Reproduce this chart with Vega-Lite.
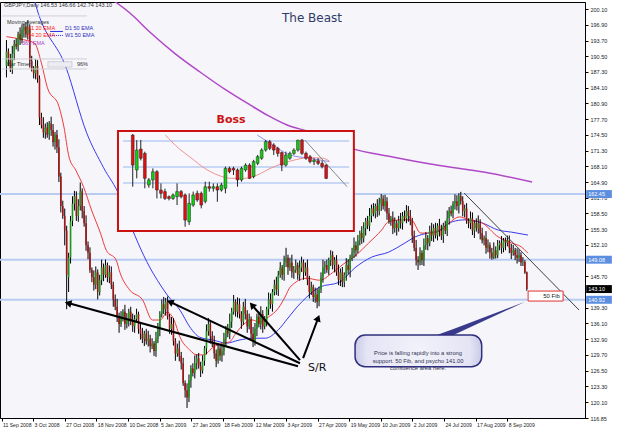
{
"$schema":"https://vega.github.io/schema/vega-lite/v6.json",
"width":585,"height":416,
"autosize":{"type":"none"},
"padding":{"left":0,"top":2,"right":40,"bottom":10},
"background":"#ffffff",
"config":{"view":{"fill":"#f5f5fa","stroke":"#000000","strokeWidth":1},"text":{"font":"Liberation Sans"},"axis":{"labelOverlap":false,"labelBound":false,"labelFlush":false}},
"datasets":{
"levels":[{"p":162.45},{"p":149.08},{"p":140.92}],
"ma365":[{"i":55,"p":202.3},{"i":57.5,"p":201.6},{"i":65,"p":199.3},{"i":75.2,"p":195.4},{"i":88,"p":191.0},{"i":100.5,"p":187.3},{"i":113,"p":183.8},{"i":125.8,"p":180.6},{"i":135,"p":178.4},{"i":144.6,"p":176.5},{"i":156.2,"p":175.1},{"i":176.5,"p":171.8},{"i":198,"p":170.0},{"i":219.5,"p":168.4},{"i":244.8,"p":166.9},{"i":268.6,"p":164.9}],
"ma50":[{"i":14,"p":202.5},{"i":15.4,"p":200.5},{"i":30.6,"p":188.3},{"i":41.3,"p":174.9},{"i":49.9,"p":167.9},{"i":58.5,"p":161.8},{"i":61.5,"p":158.6},{"i":73.7,"p":147.6},{"i":77.7,"p":144.9},{"i":82.8,"p":141.9},{"i":89.4,"p":138.8},{"i":94.4,"p":135.4},{"i":99.5,"p":133.3},{"i":106.6,"p":132.7},{"i":113.2,"p":132.1},{"i":119.7,"p":132.7},{"i":126.8,"p":133.1},{"i":133.4,"p":133.1},{"i":140,"p":134.8},{"i":145,"p":137.2},{"i":150,"p":139.6},{"i":154.7,"p":141.5},{"i":161.3,"p":143.5},{"i":171.4,"p":144.5},{"i":180,"p":147.6},{"i":188.1,"p":149.6},{"i":196.7,"p":150.6},{"i":205.3,"p":152.5},{"i":210.4,"p":153.7},{"i":217,"p":154.5},{"i":222,"p":154.9},{"i":229.6,"p":156.8},{"i":236.2,"p":157.2},{"i":244.8,"p":156.6},{"i":253.4,"p":155.1},{"i":260,"p":154.7},{"i":268.6,"p":154.1}],
"ma20":[{"i":0,"p":194.5},{"i":7,"p":194.0},{"i":14.4,"p":193.2},{"i":18,"p":189.1},{"i":21,"p":184.2},{"i":27.1,"p":180.2},{"i":29.6,"p":176.1},{"i":32.2,"p":170.0},{"i":35.7,"p":167.3},{"i":39.7,"p":163.9},{"i":43.8,"p":159.2},{"i":48.4,"p":154.5},{"i":51.4,"p":151.0},{"i":56.5,"p":149.0},{"i":58.5,"p":146.4},{"i":63.5,"p":142.9},{"i":70.1,"p":140.9},{"i":75.2,"p":136.8},{"i":79.2,"p":136.8},{"i":82.8,"p":138.4},{"i":86.3,"p":136.8},{"i":89.4,"p":133.3},{"i":94.4,"p":130.7},{"i":98,"p":129.7},{"i":101.5,"p":129.7},{"i":106.6,"p":131.3},{"i":111.6,"p":132.1},{"i":114.7,"p":132.3},{"i":118.2,"p":134.1},{"i":121.8,"p":135.8},{"i":126.8,"p":136.8},{"i":129.9,"p":136.4},{"i":134.9,"p":137.4},{"i":140,"p":139.2},{"i":143.5,"p":141.5},{"i":146.1,"p":143.5},{"i":154.7,"p":145.3},{"i":161.3,"p":144.9},{"i":167.8,"p":146.4},{"i":172.9,"p":148.0},{"i":180,"p":150.0},{"i":186.6,"p":152.5},{"i":193.2,"p":155.1},{"i":196.7,"p":156.8},{"i":203.3,"p":157.2},{"i":208.4,"p":157.2},{"i":213.4,"p":154.5},{"i":218.5,"p":154.5},{"i":222,"p":154.7},{"i":228.1,"p":156.6},{"i":233.2,"p":157.8},{"i":238.2,"p":157.2},{"i":244.8,"p":156.6},{"i":253.4,"p":153.7},{"i":260,"p":152.5},{"i":265.1,"p":151.7},{"i":268.6,"p":150.4}],
"candles":[
{"i":0,"o":188.5,"h":193.8,"l":186.2,"c":191.5},{"i":1,"o":191.5,"h":192.1,"l":188.5,"c":190.0},{"i":2,"o":190.0,"h":191.0,"l":187.3,"c":188.0},{"i":3,"o":188.0,"h":192.6,"l":186.9,"c":191.0},{"i":4,"o":191.0,"h":193.8,"l":189.7,"c":193.0},{"i":5,"o":193.0,"h":194.1,"l":191.9,"c":192.5},{"i":6,"o":192.5,"h":195.5,"l":191.5,"c":195.0},{"i":7,"o":195.0,"h":196.4,"l":192.8,"c":194.0},{"i":8,"o":194.0,"h":197.0,"l":193.1,"c":195.8},{"i":9,"o":195.8,"h":197.1,"l":194.3,"c":196.5},
{"i":10,"o":196.5,"h":197.5,"l":194.3,"c":195.0},{"i":11,"o":195.0,"h":197.8,"l":193.9,"c":196.2},{"i":12,"o":196.2,"h":197.0,"l":188.2,"c":189.5},{"i":13,"o":189.5,"h":190.6,"l":187.4,"c":188.0},{"i":14,"o":188.0,"h":188.5,"l":186.0,"c":187.0},{"i":15,"o":187.0,"h":189.9,"l":185.8,"c":188.5},{"i":16,"o":188.5,"h":189.7,"l":185.1,"c":186.0},{"i":17,"o":186.0,"h":186.6,"l":176.5,"c":178.0},{"i":18,"o":178.0,"h":179.0,"l":175.8,"c":176.5},{"i":19,"o":176.5,"h":178.1,"l":173.9,"c":175.0},
{"i":20,"o":175.0,"h":176.8,"l":173.7,"c":176.0},{"i":21,"o":176.0,"h":177.1,"l":173.9,"c":174.5},{"i":22,"o":174.5,"h":177.3,"l":173.5,"c":176.8},{"i":23,"o":176.8,"h":178.2,"l":174.3,"c":175.5},{"i":24,"o":175.5,"h":176.7,"l":172.1,"c":173.0},{"i":25,"o":173.0,"h":175.1,"l":171.5,"c":174.5},{"i":26,"o":174.5,"h":175.5,"l":170.8,"c":172.0},{"i":27,"o":172.0,"h":173.6,"l":164.9,"c":166.0},{"i":28,"o":166.0,"h":166.8,"l":158.7,"c":160.0},{"i":29,"o":160.0,"h":161.1,"l":157.4,"c":158.0},
{"i":30,"o":158.0,"h":159.5,"l":152.0,"c":155.0},{"i":31,"o":155.0,"h":156.0,"l":139.0,"c":146.0},{"i":32,"o":145.5,"h":150.5,"l":142.5,"c":149.5},{"i":33,"o":149.5,"h":158.0,"l":148.3,"c":157.0},{"i":34,"o":157.0,"h":162.0,"l":155.9,"c":160.5},{"i":35,"o":160.5,"h":163.1,"l":159.1,"c":162.0},{"i":36,"o":162.0,"h":163.0,"l":157.0,"c":158.0},{"i":37,"o":158.0,"h":161.4,"l":156.8,"c":160.0},{"i":38,"o":160.0,"h":164.8,"l":159.1,"c":163.0},{"i":39,"o":163.0,"h":163.6,"l":157.5,"c":159.0},
{"i":40,"o":159.0,"h":160.0,"l":155.8,"c":156.5},{"i":41,"o":156.5,"h":158.1,"l":150.9,"c":152.0},{"i":42,"o":152.0,"h":152.8,"l":149.2,"c":150.5},{"i":43,"o":150.5,"h":151.6,"l":146.4,"c":147.0},{"i":44,"o":147.0,"h":147.5,"l":144.5,"c":145.5},{"i":45,"o":145.5,"h":146.9,"l":142.8,"c":144.0},{"i":46,"o":144.0,"h":147.7,"l":143.1,"c":146.5},{"i":47,"o":146.5,"h":147.1,"l":141.0,"c":142.5},{"i":48,"o":142.5,"h":146.0,"l":141.8,"c":145.0},{"i":49,"o":145.0,"h":149.1,"l":143.9,"c":147.5},
{"i":50,"o":147.5,"h":148.3,"l":144.7,"c":146.0},{"i":51,"o":146.0,"h":149.1,"l":145.4,"c":148.0},{"i":52,"o":148.0,"h":148.5,"l":144.5,"c":145.5},{"i":53,"o":145.5,"h":147.9,"l":144.3,"c":146.5},{"i":54,"o":146.5,"h":147.7,"l":143.1,"c":144.0},{"i":55,"o":144.0,"h":144.6,"l":139.5,"c":141.0},{"i":56,"o":141.0,"h":142.0,"l":138.8,"c":139.5},{"i":57,"o":139.5,"h":141.1,"l":136.4,"c":137.5},{"i":58,"o":137.5,"h":138.3,"l":134.2,"c":136.0},{"i":59,"o":136.0,"h":138.6,"l":135.4,"c":137.5},
{"i":60,"o":137.5,"h":139.0,"l":136.5,"c":138.5},{"i":61,"o":138.5,"h":139.9,"l":134.8,"c":136.0},{"i":62,"o":136.0,"h":138.2,"l":135.1,"c":137.0},{"i":63,"o":137.0,"h":139.1,"l":135.5,"c":138.5},{"i":64,"o":138.5,"h":139.5,"l":135.8,"c":136.5},{"i":65,"o":136.5,"h":138.1,"l":134.4,"c":135.5},{"i":66,"o":135.5,"h":137.8,"l":134.2,"c":137.0},{"i":67,"o":137.0,"h":139.1,"l":136.4,"c":138.0},{"i":68,"o":138.0,"h":138.5,"l":134.0,"c":135.0},{"i":69,"o":135.0,"h":136.4,"l":132.8,"c":134.0},
{"i":70,"o":134.0,"h":135.2,"l":132.1,"c":133.0},{"i":71,"o":133.0,"h":134.6,"l":131.5,"c":134.0},{"i":72,"o":134.0,"h":135.0,"l":131.8,"c":132.5},{"i":73,"o":132.5,"h":134.6,"l":131.4,"c":133.0},{"i":74,"o":133.0,"h":133.8,"l":130.2,"c":131.5},{"i":75,"o":131.5,"h":133.1,"l":130.9,"c":132.0},{"i":76,"o":132.0,"h":132.5,"l":129.5,"c":130.5},{"i":77,"o":130.5,"h":134.4,"l":129.3,"c":133.0},{"i":78,"o":133.0,"h":136.2,"l":132.1,"c":135.0},{"i":79,"o":135.0,"h":138.6,"l":133.5,"c":138.0},
{"i":80,"o":138.0,"h":141.0,"l":137.3,"c":140.0},{"i":81,"o":140.0,"h":141.5,"l":138.0,"c":139.0},{"i":82,"o":139.0,"h":141.3,"l":137.7,"c":140.5},{"i":83,"o":140.5,"h":141.6,"l":136.9,"c":137.5},{"i":84,"o":137.5,"h":138.0,"l":134.0,"c":135.0},{"i":85,"o":135.0,"h":137.4,"l":133.8,"c":136.0},{"i":86,"o":136.0,"h":137.2,"l":131.6,"c":132.5},{"i":87,"o":132.5,"h":133.1,"l":128.5,"c":130.0},{"i":88,"o":130.0,"h":132.0,"l":129.3,"c":131.0},{"i":89,"o":131.0,"h":132.6,"l":128.4,"c":129.5},
{"i":90,"o":129.5,"h":130.3,"l":126.7,"c":128.0},{"i":91,"o":128.0,"h":129.1,"l":123.4,"c":124.0},{"i":92,"o":124.0,"h":124.5,"l":121.0,"c":122.5},{"i":93,"o":122.5,"h":123.9,"l":118.9,"c":121.0},{"i":94,"o":121.0,"h":125.7,"l":120.1,"c":124.5},{"i":95,"o":124.5,"h":127.6,"l":123.0,"c":127.0},{"i":96,"o":127.0,"h":128.0,"l":125.3,"c":126.0},{"i":97,"o":126.0,"h":129.6,"l":124.9,"c":128.0},{"i":98,"o":128.0,"h":129.8,"l":126.7,"c":129.0},{"i":99,"o":129.0,"h":130.1,"l":126.9,"c":127.5},
{"i":100,"o":127.5,"h":128.3,"l":125.2,"c":126.5},{"i":101,"o":126.5,"h":129.6,"l":125.9,"c":128.5},{"i":102,"o":128.5,"h":131.5,"l":127.5,"c":131.0},{"i":103,"o":131.0,"h":135.9,"l":129.8,"c":134.5},{"i":104,"o":134.5,"h":137.2,"l":133.6,"c":136.0},{"i":105,"o":136.0,"h":136.6,"l":132.0,"c":133.5},{"i":106,"o":133.5,"h":134.5,"l":131.3,"c":132.0},{"i":107,"o":132.0,"h":133.6,"l":128.9,"c":130.0},{"i":108,"o":130.0,"h":130.8,"l":127.2,"c":128.5},{"i":109,"o":128.5,"h":132.1,"l":127.9,"c":131.0},
{"i":110,"o":131.0,"h":131.5,"l":128.5,"c":129.5},{"i":111,"o":129.5,"h":131.9,"l":128.3,"c":130.5},{"i":112,"o":130.5,"h":134.2,"l":129.6,"c":133.0},{"i":113,"o":133.0,"h":135.6,"l":131.5,"c":135.0},{"i":114,"o":135.0,"h":136.0,"l":133.3,"c":134.0},{"i":115,"o":134.0,"h":138.1,"l":132.9,"c":136.5},{"i":116,"o":136.5,"h":139.3,"l":135.2,"c":138.5},{"i":117,"o":138.5,"h":141.9,"l":137.9,"c":140.5},{"i":118,"o":140.5,"h":141.0,"l":137.5,"c":138.5},{"i":119,"o":138.5,"h":141.4,"l":137.3,"c":140.0},
{"i":120,"o":140.0,"h":141.2,"l":137.1,"c":138.0},{"i":121,"o":138.0,"h":138.6,"l":135.0,"c":136.5},{"i":122,"o":136.5,"h":140.5,"l":135.8,"c":139.5},{"i":123,"o":139.5,"h":141.1,"l":136.9,"c":138.0},{"i":124,"o":138.0,"h":138.8,"l":134.2,"c":135.5},{"i":125,"o":135.5,"h":138.1,"l":134.9,"c":137.0},{"i":126,"o":137.0,"h":137.5,"l":133.0,"c":134.0},{"i":127,"o":134.0,"h":135.4,"l":131.3,"c":132.5},{"i":128,"o":132.5,"h":136.2,"l":131.6,"c":135.0},{"i":129,"o":135.0,"h":138.1,"l":133.5,"c":137.5},
{"i":130,"o":137.5,"h":138.5,"l":135.3,"c":136.0},{"i":131,"o":136.0,"h":139.6,"l":134.9,"c":138.0},{"i":132,"o":138.0,"h":138.8,"l":134.2,"c":135.5},{"i":133,"o":135.5,"h":137.6,"l":134.9,"c":136.5},{"i":134,"o":136.5,"h":139.5,"l":135.5,"c":139.0},{"i":135,"o":139.0,"h":142.4,"l":137.8,"c":141.0},{"i":136,"o":141.0,"h":142.2,"l":139.1,"c":140.0},{"i":137,"o":140.0,"h":143.1,"l":138.5,"c":142.5},{"i":138,"o":142.5,"h":145.0,"l":141.8,"c":144.0},{"i":139,"o":144.0,"h":145.6,"l":141.9,"c":143.0},
{"i":140,"o":143.0,"h":146.8,"l":141.7,"c":146.0},{"i":141,"o":146.0,"h":148.6,"l":145.4,"c":147.5},{"i":142,"o":147.5,"h":148.0,"l":145.0,"c":146.0},{"i":143,"o":146.0,"h":149.9,"l":144.8,"c":148.5},{"i":144,"o":148.5,"h":151.5,"l":147.6,"c":149.5},{"i":145,"o":149.5,"h":150.1,"l":146.0,"c":147.5},{"i":146,"o":147.5,"h":149.5,"l":146.8,"c":148.5},{"i":147,"o":148.5,"h":150.1,"l":145.4,"c":146.5},{"i":148,"o":146.5,"h":147.8,"l":145.2,"c":147.0},{"i":149,"o":147.0,"h":149.1,"l":146.4,"c":148.0},
{"i":150,"o":148.0,"h":148.5,"l":145.0,"c":146.0},{"i":151,"o":146.0,"h":148.9,"l":144.8,"c":147.5},{"i":152,"o":147.5,"h":149.7,"l":146.6,"c":148.5},{"i":153,"o":148.5,"h":149.1,"l":145.0,"c":146.5},{"i":154,"o":146.5,"h":148.5,"l":145.8,"c":147.5},{"i":155,"o":147.5,"h":149.1,"l":143.9,"c":145.0},{"i":156,"o":145.0,"h":145.8,"l":141.2,"c":142.5},{"i":157,"o":142.5,"h":144.6,"l":141.9,"c":143.5},{"i":158,"o":143.5,"h":144.0,"l":140.5,"c":141.5},{"i":159,"o":141.5,"h":143.4,"l":140.3,"c":142.0},
{"i":160,"o":142.0,"h":143.2,"l":139.2,"c":140.5},{"i":161,"o":140.5,"h":143.6,"l":139.6,"c":143.0},{"i":162,"o":143.0,"h":146.5,"l":142.3,"c":145.5},{"i":163,"o":145.5,"h":149.1,"l":144.4,"c":147.5},{"i":164,"o":147.5,"h":148.8,"l":146.2,"c":148.0},{"i":165,"o":148.0,"h":149.1,"l":146.4,"c":147.0},{"i":166,"o":147.0,"h":149.5,"l":146.0,"c":149.0},{"i":167,"o":149.0,"h":151.0,"l":147.8,"c":150.0},{"i":168,"o":150.0,"h":150.8,"l":147.1,"c":148.0},{"i":169,"o":148.0,"h":149.6,"l":146.5,"c":149.0},
{"i":170,"o":149.0,"h":150.0,"l":145.8,"c":146.5},{"i":171,"o":146.5,"h":148.1,"l":143.9,"c":145.0},{"i":172,"o":145.0,"h":147.3,"l":143.7,"c":146.5},{"i":173,"o":146.5,"h":147.6,"l":143.5,"c":144.5},{"i":174,"o":144.5,"h":146.5,"l":143.5,"c":146.0},{"i":175,"o":146.0,"h":149.4,"l":144.8,"c":148.0},{"i":176,"o":148.0,"h":149.2,"l":146.1,"c":147.0},{"i":177,"o":147.0,"h":150.1,"l":145.5,"c":149.5},{"i":178,"o":149.5,"h":151.5,"l":148.8,"c":150.5},{"i":179,"o":150.5,"h":153.6,"l":149.4,"c":152.0},
{"i":180,"o":152.0,"h":152.8,"l":149.7,"c":151.0},{"i":181,"o":151.0,"h":154.1,"l":150.4,"c":153.0},{"i":182,"o":153.0,"h":155.0,"l":152.0,"c":154.5},{"i":183,"o":154.5,"h":155.9,"l":152.3,"c":153.5},{"i":184,"o":153.5,"h":156.7,"l":152.6,"c":155.5},{"i":185,"o":155.5,"h":157.6,"l":154.0,"c":157.0},{"i":186,"o":157.0,"h":158.0,"l":155.3,"c":156.0},{"i":187,"o":156.0,"h":159.6,"l":154.9,"c":158.0},{"i":188,"o":158.0,"h":160.3,"l":156.7,"c":159.5},{"i":189,"o":159.5,"h":160.6,"l":157.9,"c":158.5},
{"i":190,"o":158.5,"h":160.5,"l":157.5,"c":160.0},{"i":191,"o":160.0,"h":161.4,"l":157.8,"c":159.0},{"i":192,"o":159.0,"h":161.7,"l":158.1,"c":160.5},{"i":193,"o":160.5,"h":162.45,"l":159.0,"c":161.5},{"i":194,"o":161.5,"h":162.2,"l":159.3,"c":160.0},{"i":195,"o":160.0,"h":162.3,"l":158.9,"c":161.0},{"i":196,"o":161.0,"h":161.8,"l":157.2,"c":158.5},{"i":197,"o":158.5,"h":159.6,"l":156.4,"c":157.0},{"i":198,"o":157.0,"h":158.0,"l":156.0,"c":157.5},{"i":199,"o":157.5,"h":158.9,"l":154.3,"c":155.5},
{"i":200,"o":155.5,"h":157.7,"l":154.6,"c":156.5},{"i":201,"o":156.5,"h":157.1,"l":154.0,"c":155.5},{"i":202,"o":155.5,"h":158.0,"l":154.8,"c":157.0},{"i":203,"o":157.0,"h":158.6,"l":155.4,"c":156.5},{"i":204,"o":156.5,"h":158.8,"l":155.2,"c":158.0},{"i":205,"o":158.0,"h":159.1,"l":156.9,"c":157.5},{"i":206,"o":157.5,"h":160.2,"l":156.5,"c":159.0},{"i":207,"o":159.0,"h":160.0,"l":156.8,"c":158.0},{"i":208,"o":158.0,"h":159.2,"l":156.1,"c":157.0},{"i":209,"o":157.0,"h":157.6,"l":152.5,"c":154.0},
{"i":210,"o":154.0,"h":155.0,"l":150.8,"c":151.5},{"i":211,"o":151.5,"h":153.1,"l":147.9,"c":149.0},{"i":212,"o":149.0,"h":149.8,"l":147.0,"c":148.5},{"i":213,"o":148.5,"h":151.6,"l":147.9,"c":150.5},{"i":214,"o":150.5,"h":151.0,"l":148.0,"c":149.0},{"i":215,"o":149.0,"h":153.4,"l":147.8,"c":152.0},{"i":216,"o":152.0,"h":154.7,"l":151.1,"c":153.5},{"i":217,"o":153.5,"h":154.1,"l":151.0,"c":152.5},{"i":218,"o":152.5,"h":156.0,"l":151.8,"c":155.0},{"i":219,"o":155.0,"h":156.6,"l":152.9,"c":154.0},
{"i":220,"o":154.0,"h":156.3,"l":152.7,"c":155.5},{"i":221,"o":155.5,"h":156.6,"l":153.4,"c":154.0},{"i":222,"o":154.0,"h":156.5,"l":153.0,"c":156.0},{"i":223,"o":156.0,"h":157.4,"l":153.8,"c":155.0},{"i":224,"o":155.0,"h":156.2,"l":153.1,"c":154.0},{"i":225,"o":154.0,"h":156.6,"l":152.5,"c":156.0},{"i":226,"o":156.0,"h":157.0,"l":154.3,"c":155.0},{"i":227,"o":155.0,"h":159.1,"l":153.9,"c":157.5},{"i":228,"o":157.5,"h":159.8,"l":156.2,"c":159.0},{"i":229,"o":159.0,"h":160.1,"l":157.9,"c":158.5},
{"i":230,"o":158.5,"h":161.0,"l":157.5,"c":160.5},{"i":231,"o":160.5,"h":162.4,"l":159.3,"c":161.0},{"i":232,"o":161.0,"h":162.2,"l":159.1,"c":160.0},{"i":233,"o":160.0,"h":162.6,"l":158.5,"c":162.0},{"i":234,"o":162.0,"h":162.9,"l":160.3,"c":161.0},{"i":235,"o":161.0,"h":162.0,"l":157.9,"c":159.0},{"i":236,"o":159.0,"h":160.3,"l":157.7,"c":159.5},{"i":237,"o":159.5,"h":160.6,"l":156.4,"c":157.0},{"i":238,"o":157.0,"h":157.5,"l":155.5,"c":156.5},{"i":239,"o":156.5,"h":158.9,"l":155.3,"c":157.5},
{"i":240,"o":157.5,"h":158.7,"l":154.1,"c":155.0},{"i":241,"o":155.0,"h":157.1,"l":153.5,"c":156.5},{"i":242,"o":156.5,"h":157.5,"l":154.8,"c":155.5},{"i":243,"o":155.5,"h":158.1,"l":154.4,"c":156.5},{"i":244,"o":156.5,"h":157.3,"l":153.2,"c":154.5},{"i":245,"o":154.5,"h":155.6,"l":152.4,"c":153.0},{"i":246,"o":153.0,"h":154.0,"l":152.0,"c":153.5},{"i":247,"o":153.5,"h":154.9,"l":150.3,"c":151.5},{"i":248,"o":151.5,"h":153.2,"l":150.6,"c":152.0},{"i":249,"o":152.0,"h":152.6,"l":149.3,"c":150.5},
{"i":250,"o":150.5,"h":151.5,"l":149.08,"c":149.5},{"i":251,"o":149.5,"h":152.6,"l":149.2,"c":151.0},{"i":252,"o":151.0,"h":151.8,"l":149.3,"c":150.0},{"i":253,"o":150.0,"h":153.1,"l":149.4,"c":152.0},{"i":254,"o":152.0,"h":153.0,"l":151.0,"c":152.5},{"i":255,"o":152.5,"h":153.9,"l":150.3,"c":151.5},{"i":256,"o":151.5,"h":153.5,"l":150.6,"c":153.0},{"i":257,"o":153.0,"h":153.6,"l":151.0,"c":152.5},{"i":258,"o":152.5,"h":154.0,"l":151.8,"c":153.0},{"i":259,"o":153.0,"h":154.0,"l":150.4,"c":151.5},
{"i":260,"o":151.5,"h":152.3,"l":149.2,"c":150.5},{"i":261,"o":150.5,"h":152.1,"l":149.9,"c":151.0},{"i":262,"o":151.0,"h":151.5,"l":149.0,"c":150.0},{"i":263,"o":150.0,"h":151.4,"l":148.3,"c":149.5},{"i":264,"o":149.5,"h":151.2,"l":148.6,"c":150.0},{"i":265,"o":150.0,"h":150.6,"l":147.8,"c":148.5},{"i":266,"o":148.5,"h":149.6,"l":147.8,"c":148.6},{"i":267,"o":148.6,"h":149.0,"l":146.2,"c":146.5},{"i":268,"o":146.53,"h":146.66,"l":142.74,"c":143.10}
],
"inset":[
{"k":0,"o":165.5,"h":166.0,"l":139.0,"c":150.1},{"k":1,"o":147.6,"h":162.9,"l":143.3,"c":157.8},{"k":2,"o":158.3,"h":163.0,"l":152.5,"c":153.6},{"k":3,"o":156.1,"h":157.0,"l":138.2,"c":143.3},{"k":4,"o":139.9,"h":143.5,"l":138.5,"c":142.5},{"k":5,"o":142.5,"h":148.4,"l":138.2,"c":146.7},{"k":6,"o":146.7,"h":147.5,"l":133.0,"c":137.3},{"k":7,"o":137.3,"h":140.7,"l":133.0,"c":135.6},{"k":8,"o":136.5,"h":138.0,"l":132.2,"c":133.0},{"k":9,"o":133.9,"h":134.5,"l":132.0,"c":133.0},
{"k":10,"o":133.0,"h":135.6,"l":132.2,"c":134.8},{"k":11,"o":133.9,"h":140.7,"l":129.6,"c":136.5},{"k":12,"o":136.5,"h":137.3,"l":133.0,"c":133.9},{"k":13,"o":134.8,"h":135.6,"l":118.5,"c":121.9},{"k":14,"o":121.1,"h":135.6,"l":119.4,"c":130.5},{"k":15,"o":129.6,"h":136.5,"l":128.7,"c":134.8},{"k":16,"o":135.6,"h":137.0,"l":131.3,"c":132.2},{"k":17,"o":135.6,"h":136.5,"l":127.9,"c":129.6},{"k":18,"o":131.5,"h":141.6,"l":130.5,"c":139.0},{"k":19,"o":139.0,"h":141.6,"l":136.5,"c":138.2},
{"k":20,"o":138.2,"h":140.7,"l":136.5,"c":139.0},{"k":21,"o":139.0,"h":140.7,"l":131.3,"c":137.3},{"k":22,"o":137.3,"h":141.0,"l":136.5,"c":139.9},{"k":23,"o":138.2,"h":149.3,"l":135.6,"c":148.4},{"k":24,"o":148.4,"h":149.3,"l":145.9,"c":146.7},{"k":25,"o":148.4,"h":149.3,"l":145.0,"c":147.6},{"k":26,"o":147.6,"h":148.4,"l":139.0,"c":142.5},{"k":27,"o":142.5,"h":149.3,"l":141.6,"c":148.4},{"k":28,"o":147.6,"h":151.0,"l":146.7,"c":150.1},{"k":29,"o":150.1,"h":151.0,"l":143.0,"c":143.3},
{"k":30,"o":144.2,"h":152.8,"l":143.3,"c":151.9},{"k":31,"o":151.0,"h":155.3,"l":150.1,"c":154.4},{"k":32,"o":153.6,"h":158.7,"l":152.8,"c":157.8},{"k":33,"o":157.8,"h":163.0,"l":157.0,"c":162.1},{"k":34,"o":162.1,"h":163.0,"l":157.8,"c":158.7},{"k":35,"o":160.4,"h":161.3,"l":155.3,"c":157.8},{"k":36,"o":158.7,"h":159.5,"l":154.4,"c":156.1},{"k":37,"o":156.5,"h":157.0,"l":147.0,"c":150.1},{"k":38,"o":150.1,"h":157.0,"l":149.3,"c":155.3},{"k":39,"o":153.6,"h":157.0,"l":152.8,"c":156.1},
{"k":40,"o":156.1,"h":158.7,"l":155.3,"c":157.8},{"k":41,"o":157.8,"h":163.0,"l":157.0,"c":162.9},{"k":42,"o":162.9,"h":163.5,"l":155.3,"c":156.1},{"k":43,"o":156.1,"h":157.0,"l":152.8,"c":153.6},{"k":44,"o":154.4,"h":155.3,"l":151.0,"c":151.9},{"k":45,"o":151.9,"h":153.6,"l":150.1,"c":152.7},{"k":46,"o":152.3,"h":153.6,"l":150.1,"c":151.0},{"k":47,"o":151.0,"h":152.3,"l":148.4,"c":149.3},{"k":48,"o":150.1,"h":150.5,"l":142.9,"c":143.3}
],
"insetBox":[{"k":-3.66,"k2":54.88,"p":167.58,"p2":116.3}],
"insetTitle":[{"k":24.4,"p":173.2,"t":"Boss"}],
"insetLevels":[{"k":-2.4,"k2":53.7,"p":162.45},{"k":-2.4,"k2":53.7,"p":149.08},{"k":-2.4,"k2":53.7,"p":140.92}],
"insetMa":[{"k":8.1,"p":165.5},{"k":11.4,"p":158.7},{"k":14.6,"p":153.6},{"k":17.9,"p":148.4},{"k":21.1,"p":145.0},{"k":24.4,"p":143.3},{"k":27.6,"p":143.3},{"k":30.9,"p":145.0},{"k":34.1,"p":148.4},{"k":37.4,"p":151.0},{"k":40.7,"p":153.0},{"k":43.9,"p":153.9},{"k":47.2,"p":153.6},{"k":48.8,"p":152.2}],
"insetMa2":[{"k":30.9,"p":165.5},{"k":34.1,"p":161.3},{"k":39.0,"p":155.3},{"k":43.9,"p":153.6},{"k":48.8,"p":151.9}],
"insetTrend":[{"k":42.7,"p":162.96},{"k":53.2,"p":139.0}],
"sep":[{"i":0.25,"i2":43.3,"p":198.71},{"i":0.25,"i2":43.3,"p":189.95},{"i":0.25,"i2":43.3,"p":187.91}],
"sampleSolid":[{"i":24.6,"i2":31.1,"p":195.55}],
"sampleDot":[{"i":24.6,"i2":31.1,"p":194.74}],
"timerBox":[{"i":23.5,"i2":35.7,"p":189.4,"p2":188.3}],
"legendText":[
{"i":1.27,"p":200.95,"t":"GBPJPY,Daily  146.53 146.66 142.74 143.10","g":"k"},
{"i":2.78,"p":197.5,"t":"Moving Averages","g":"k"},
{"i":12.9,"p":196.26,"t":"H1 20 EMA","g":"r"},
{"i":12.9,"p":194.84,"t":"H4 20 EMA","g":"r"},
{"i":10.4,"p":193.21,"t":"365 EMA","g":"m"},
{"i":32.15,"p":196.26,"t":"D1 50 EMA","g":"b"},
{"i":32.15,"p":194.84,"t":"W1 50 EMA","g":"b"},
{"i":2.78,"p":188.9,"t":"Bar Timer","g":"k"},
{"i":38.2,"p":188.9,"t":"96%","g":"k"}],
"trend":[{"i":234.2,"p":162.66},{"i":292.4,"p":138.83}],
"arrows":[{"g":"A","i":33.7,"p":140.26},{"g":"A","i":150.1,"p":127.4},{"g":"B","i":85.3,"p":140.5},{"g":"B","i":151.1,"p":128.0},{"g":"C","i":126.8,"p":139.85},{"g":"C","i":151.1,"p":128.65},{"g":"D","i":160.3,"p":137.2},{"g":"D","i":152.7,"p":129.05}],
"headA":[{"i":33.7,"p":140.26}],
"headB":[{"i":85.3,"p":140.5}],
"headC":[{"i":126.8,"p":139.85}],
"headD":[{"i":160.3,"p":137.2}],
"fibBox":[{"i":266.6,"i2":284.3,"p":142.7,"p2":140.66}],
"fibText":[{"i":278.5,"p":141.68,"t":"50 Fib"}],
"tail":[{"i":220.4,"p":133.74,"p2":133.74},{"i":228.8,"p":134.98,"p2":133.74},{"i":265.1,"p":140.52,"p2":140.52}],
"callout":[{"i":179.0,"i2":243.1,"p":133.74,"p2":127.28}],
"calloutText":[{"i":210.9,"p":130.0,"t":"Price is falling rapidly into a strong\nsupport. 50 Fib, and psycho 141.00\nconfluence area here."}],
"title":[{"i":157.2,"p":198.3,"t":"The Beast"}],
"sr":[{"i":159.8,"p":127.0,"t":"S/R"}],
"lblBlue":[{"i":296.0,"i2":309.0,"p":163.26,"p2":161.64,"t":"162.45"},{"i":296.0,"i2":309.0,"p":149.89,"p2":148.27,"t":"149.08"},{"i":296.0,"i2":309.0,"p":141.73,"p2":140.11,"t":"140.92"}],
"lblBlack":[{"i":296.0,"i2":309.0,"p":143.91,"p2":142.29,"t":"143.10"}],
"lblAll":[{"i":297.0,"p":162.45,"t":"162.45"},{"i":297.0,"p":149.08,"t":"149.08"},{"i":297.0,"p":140.92,"t":"140.92"},{"i":297.0,"p":143.1,"t":"143.10"}]
},
"resolve":{"scale":{"x":"independent","y":"independent","color":"independent"}},
"layer":[
 {"data":{"name":"levels"},"mark":{"type":"rule","color":"#b8ccf2","strokeWidth":2},
  "encoding":{"y":{"field":"p","type":"quantitative","scale":{"domain":[116.85,201.55],"nice":false,"zero":false},
   "axis":{"orient":"right","title":null,"values":[116.85,120.1,123.3,126.5,129.7,132.9,136.1,139.3,145.7,152.1,155.3,158.5,161.7,164.9,168.1,171.3,174.5,177.7,180.9,184.1,187.3,190.5,193.7,196.9,200.1],"format":".2f","labelFont":"Liberation Sans","labelFontSize":5.5,"labelColor":"#222222","tickSize":3,"tickColor":"#000000","domainColor":"#000000","labelPadding":2,"grid":false,"labelOverlap":false,"labelFlush":false,"labelBound":false}}}},
 {"data":{"name":"ma365"},"mark":{"type":"line","color":"#b048c8","strokeWidth":1.5,"clip":true,"interpolate":"monotone"},
  "encoding":{"x":{"field":"i","type":"quantitative","scale":{"domain":[-0.76,295.4],"nice":false,"zero":false},
   "axis":{"title":null,"values":[0,16,32,48,64,80,96,112,128,144,160,176,192,208,224,240,256],"labelExpr":"['11 Sep 2008','3 Oct 2008','27 Oct 2008','18 Nov 2008','10 Dec 2008','5 Jan 2009','27 Jan 2009','18 Feb 2009','12 Mar 2009','3 Apr 2009','27 Apr 2009','19 May 2009','10 Jun 2009','2 Jul 2009','24 Jul 2009','17 Aug 2009','8 Sep 2009'][round(datum.value/16)]","labelAlign":"left","labelFont":"Liberation Sans","labelFontSize":5.1,"labelColor":"#222222","tickSize":3,"tickColor":"#000000","domainColor":"#000000","labelPadding":1,"labelOffset":1,"grid":false,"labelFlush":false,"labelOverlap":false,"labelBound":false}},
   "y":{"field":"p","type":"quantitative","scale":{"domain":[116.85,201.55],"nice":false,"zero":false},"axis":null}}},
 {"layer":[
 {"data":{"name":"ma50"},"mark":{"type":"line","color":"#3a3af0","strokeWidth":1,"clip":true,"interpolate":"monotone"},
  "encoding":{"x":{"field":"i","type":"quantitative","scale":{"domain":[-0.76,295.4],"nice":false,"zero":false},"axis":null},"y":{"field":"p","type":"quantitative","scale":{"domain":[116.85,201.55],"nice":false,"zero":false},"axis":null}}},
 {"data":{"name":"ma20"},"mark":{"type":"line","color":"#f03a3a","strokeWidth":1,"clip":true,"interpolate":"monotone"},
  "encoding":{"x":{"field":"i","type":"quantitative","scale":{"domain":[-0.76,295.4],"nice":false,"zero":false},"axis":null},"y":{"field":"p","type":"quantitative","scale":{"domain":[116.85,201.55],"nice":false,"zero":false},"axis":null}}},
 {"data":{"name":"candles"},"mark":{"type":"rule","color":"#000000","strokeWidth":1},
  "encoding":{"x":{"field":"i","type":"quantitative","scale":{"domain":[-0.76,295.4],"nice":false,"zero":false},"axis":null},"y":{"field":"l","type":"quantitative","scale":{"domain":[116.85,201.55],"nice":false,"zero":false},"axis":null},"y2":{"field":"h"}}},
 {"data":{"name":"candles"},"mark":{"type":"bar","width":1.6},
  "encoding":{"x":{"field":"i","type":"quantitative","scale":{"domain":[-0.76,295.4],"nice":false,"zero":false},"axis":null},"y":{"field":"o","type":"quantitative","scale":{"domain":[116.85,201.55],"nice":false,"zero":false},"axis":null},"y2":{"field":"c"},
   "color":{"condition":{"test":"datum.c >= datum.o","value":"#1e961e"},"value":"#a31515"}}}
 ]},
{"layer":[
 {"data":{"name":"insetBox"},"mark":{"type":"rect","fill":"#f8f8fc","stroke":"#cc1111","strokeWidth":2},
  "encoding":{"x":{"field":"k","type":"quantitative","scale":{"domain":[-31.7,111.0],"nice":false,"zero":false},"axis":null},"x2":{"field":"k2"},"y":{"field":"p","type":"quantitative","scale":{"domain":[20.4,233.73],"nice":false,"zero":false},"axis":null},"y2":{"field":"p2"}}},
 {"data":{"name":"insetTitle"},"mark":{"type":"text","color":"#cc1111","fontSize":11,"fontWeight":"bold","font":"DejaVu Sans"},
  "encoding":{"x":{"field":"k","type":"quantitative","scale":{"domain":[-31.7,111.0],"nice":false,"zero":false},"axis":null},"y":{"field":"p","type":"quantitative","scale":{"domain":[20.4,233.73],"nice":false,"zero":false},"axis":null},"text":{"field":"t"}}},
 {"data":{"name":"insetLevels"},"mark":{"type":"rule","color":"#b8ccf2","strokeWidth":1.5},
  "encoding":{"x":{"field":"k","type":"quantitative","scale":{"domain":[-31.7,111.0],"nice":false,"zero":false},"axis":null},"x2":{"field":"k2"},"y":{"field":"p","type":"quantitative","scale":{"domain":[20.4,233.73],"nice":false,"zero":false},"axis":null}}},
 {"data":{"name":"insetMa"},"mark":{"type":"line","color":"#f09090","strokeWidth":1,"interpolate":"monotone"},
  "encoding":{"x":{"field":"k","type":"quantitative","scale":{"domain":[-31.7,111.0],"nice":false,"zero":false},"axis":null},"y":{"field":"p","type":"quantitative","scale":{"domain":[20.4,233.73],"nice":false,"zero":false},"axis":null}}},
 {"data":{"name":"insetMa2"},"mark":{"type":"line","color":"#9090e8","strokeWidth":1,"interpolate":"monotone"},
  "encoding":{"x":{"field":"k","type":"quantitative","scale":{"domain":[-31.7,111.0],"nice":false,"zero":false},"axis":null},"y":{"field":"p","type":"quantitative","scale":{"domain":[20.4,233.73],"nice":false,"zero":false},"axis":null}}},
 {"data":{"name":"insetTrend"},"mark":{"type":"line","color":"#888888","strokeWidth":1},
  "encoding":{"x":{"field":"k","type":"quantitative","scale":{"domain":[-31.7,111.0],"nice":false,"zero":false},"axis":null},"y":{"field":"p","type":"quantitative","scale":{"domain":[20.4,233.73],"nice":false,"zero":false},"axis":null}}},
 {"data":{"name":"inset"},"mark":{"type":"rule","color":"#222222","strokeWidth":1},
  "encoding":{"x":{"field":"k","type":"quantitative","scale":{"domain":[-31.7,111.0],"nice":false,"zero":false},"axis":null},"y":{"field":"l","type":"quantitative","scale":{"domain":[20.4,233.73],"nice":false,"zero":false},"axis":null},"y2":{"field":"h"}}},
 {"data":{"name":"inset"},"mark":{"type":"bar","width":2.8,"stroke":"#222222","strokeWidth":0.5},
  "encoding":{"x":{"field":"k","type":"quantitative","scale":{"domain":[-31.7,111.0],"nice":false,"zero":false},"axis":null},"y":{"field":"o","type":"quantitative","scale":{"domain":[20.4,233.73],"nice":false,"zero":false},"axis":null},"y2":{"field":"c"},
   "color":{"condition":{"test":"datum.c >= datum.o","value":"#10d010"},"value":"#e01010"}}}
]},
{"encoding":{"x":{"field":"i","type":"quantitative","scale":{"domain":[-0.76,295.4],"nice":false,"zero":false},"axis":null},"y":{"field":"p","type":"quantitative","scale":{"domain":[116.85,201.55],"nice":false,"zero":false},"axis":null}},
 "layer":[
 {"data":{"name":"sep"},"mark":{"type":"rule","color":"#cfcfd6","strokeWidth":1},"encoding":{"x2":{"field":"i2"}}},
 {"data":{"name":"sampleSolid"},"mark":{"type":"rule","color":"#3030e0","strokeWidth":1},"encoding":{"x2":{"field":"i2"}}},
 {"data":{"name":"sampleDot"},"mark":{"type":"rule","color":"#3030e0","strokeWidth":1,"strokeDash":[1,1]},"encoding":{"x2":{"field":"i2"}}},
 {"data":{"name":"timerBox"},"mark":{"type":"rect","fill":"#ececf2","stroke":"#b0b0b8","strokeWidth":0.5},"encoding":{"x2":{"field":"i2"},"y2":{"field":"p2"}}},
 {"data":{"name":"legendText"},"mark":{"type":"text","align":"left","baseline":"middle","fontSize":5.5,"font":"Liberation Sans"},
  "encoding":{"text":{"field":"t"},"color":{"field":"g","type":"nominal","scale":{"domain":["k","r","m","b"],"range":["#333333","#ff2020","#b040c0","#3030c0"]},"legend":null}}},
 {"data":{"name":"trend"},"mark":{"type":"line","color":"#404040","strokeWidth":1}},
 {"data":{"name":"arrows"},"mark":{"type":"line","color":"#000000","strokeWidth":2},"encoding":{"detail":{"field":"g"}}},
 {"data":{"name":"headA"},"mark":{"type":"point","shape":"triangle-up","filled":true,"color":"#000000","opacity":1,"size":60,"angle":285}},
 {"data":{"name":"headB"},"mark":{"type":"point","shape":"triangle-up","filled":true,"color":"#000000","opacity":1,"size":60,"angle":295}},
 {"data":{"name":"headC"},"mark":{"type":"point","shape":"triangle-up","filled":true,"color":"#000000","opacity":1,"size":60,"angle":319}},
 {"data":{"name":"headD"},"mark":{"type":"point","shape":"triangle-up","filled":true,"color":"#000000","opacity":1,"size":60,"angle":21}},
 {"data":{"name":"fibBox"},"mark":{"type":"rect","fill":"#ffffff","stroke":"#e03030","strokeWidth":1},"encoding":{"x2":{"field":"i2"},"y2":{"field":"p2"}}},
 {"data":{"name":"fibText"},"mark":{"type":"text","fontSize":6,"color":"#222222","baseline":"middle"},"encoding":{"text":{"field":"t"}}},
 {"data":{"name":"tail"},"mark":{"type":"area","color":"#3a3a8c","interpolate":"linear"},"encoding":{"y2":{"field":"p2"}}},
 {"data":{"name":"callout"},"mark":{"type":"rect","cornerRadius":10,"stroke":"#30307f","strokeWidth":1.5,
   "fill":{"gradient":"radial","x1":0.5,"y1":0.5,"x2":0.5,"y2":0.5,"r1":0,"r2":0.75,"stops":[{"offset":0,"color":"#f2f2fb"},{"offset":0.55,"color":"#e4e4f5"},{"offset":1,"color":"#8080c0"}]}},
  "encoding":{"x2":{"field":"i2"},"y2":{"field":"p2"}}},
 {"data":{"name":"calloutText"},"mark":{"type":"text","fontSize":5.8,"color":"#303050","lineBreak":"\n","lineHeight":7.5,"baseline":"middle","align":"center"},"encoding":{"text":{"field":"t"}}},
 {"data":{"name":"title"},"mark":{"type":"text","fontSize":12,"color":"#2f3b66","font":"DejaVu Sans","baseline":"middle"},"encoding":{"text":{"field":"t"}}},
 {"data":{"name":"sr"},"mark":{"type":"text","fontSize":11,"color":"#111111","font":"DejaVu Sans","baseline":"middle"},"encoding":{"text":{"field":"t"}}},
 {"data":{"name":"lblBlue"},"mark":{"type":"rect","fill":"#5c8ee0"},"encoding":{"x2":{"field":"i2"},"y2":{"field":"p2"}}},
 {"data":{"name":"lblBlack"},"mark":{"type":"rect","fill":"#000000"},"encoding":{"x2":{"field":"i2"},"y2":{"field":"p2"}}},
 {"data":{"name":"lblAll"},"mark":{"type":"text","fontSize":5.5,"color":"#ffffff","align":"left","baseline":"middle","font":"Liberation Sans"},"encoding":{"text":{"field":"t"}}}
]}
]
}
